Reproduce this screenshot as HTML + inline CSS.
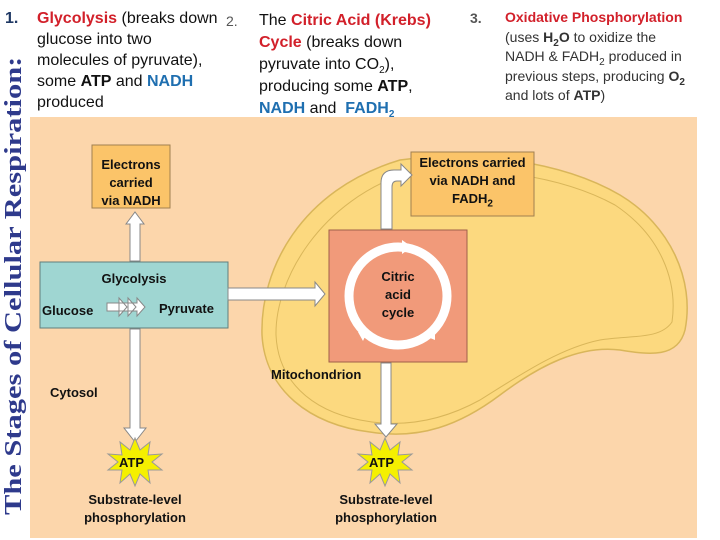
<!DOCTYPE html>
<html><head><meta charset="utf-8"><style>
html,body{margin:0;padding:0;background:#fff;}
body{width:720px;height:540px;position:relative;overflow:hidden;font-family:"Liberation Sans",sans-serif;}
.t{position:absolute;font-size:16px;line-height:21px;color:#111;}
.d{font-weight:bold;font-size:13px;}
.red{color:#d2202a;font-weight:bold}
.blue{color:#1f6fb0;font-weight:bold}
sub{font-size:10px;line-height:0}
</style></head><body>
<div style="position:absolute;left:30px;top:117px;width:667px;height:421px;background:#fcd6ab;"></div>
<svg width="720" height="540" style="position:absolute;left:0;top:0">
<path d="M400,160 C470,150 560,160 620,195 C670,225 695,280 685,330 C678,358 650,355 620,350 C580,345 540,365 500,395 C460,425 420,440 370,432 C310,425 265,390 262,335 C260,270 300,190 400,160 Z" fill="#fcd97f" stroke="#d9b65a" stroke-width="1.5"/>
<path d="M410,172 C480,165 560,175 615,205 C660,235 678,280 672,322 C660,340 630,335 600,340 C560,348 520,375 480,400 C440,422 400,428 360,420 C310,410 278,380 276,335 C275,280 320,200 410,172 Z" fill="none" stroke="#d9b65a" stroke-width="1"/>
<rect x="92" y="145" width="78" height="63" fill="#fbc469" stroke="#a08050"/>
<rect x="411" y="152" width="123" height="64" fill="#fbc469" stroke="#a08050"/>
<rect x="40" y="262" width="188" height="66" fill="#9fd6d2" stroke="#607f7c"/>
<rect x="329" y="230" width="138" height="132" fill="#f19a7a" stroke="#a0604a"/>
<g fill="#fff" stroke="#888" stroke-width="1">
<path d="M130,261 V224 H126 L135,212 L144,224 H140 V261 Z"/>
<path d="M130,329 V428 H124 L135,442 L146,428 H140 V329 Z"/>
<path d="M228,288 H315 V282 L325,294 L315,306 V300 H228 Z"/>
<path d="M381,229 V183 Q381,170 394,170 H401 V164 L412,175 L401,186 V181 H397 Q392,181 392,187 V229 Z"/>
<path d="M381,363 V424 H375 L386,437 L397,424 H391 V363 Z"/>
<path d="M107,303 H119 V298 L127,307 L119,316 V311 H107Z M119,303 H128 V298 L136,307 L128,316 V311 H119Z M128,303 H137 V298 L145,307 L137,316 V311 H128Z"/>
</g>
<circle cx="398" cy="296" r="49" fill="none" stroke="#fff" stroke-width="9"/>
<circle cx="398" cy="296" r="44" fill="#f19a7a"/>
<path d="M402,240 l10,7 -10,7z M368,330 l-10,2 5,9z M435,330 l0,10 -10,-4z" fill="#fff"/>
<g fill="#f5f000" stroke="#999" stroke-width="1">
<polygon points="135,438 140,450 150,442 148,455 162,454 152,462 162,470 148,470 150,483 140,474 135,486 130,474 120,483 122,470 108,470 118,462 108,454 122,455 120,442 130,450"/>
<polygon points="385,438 390,450 400,442 398,455 412,454 402,462 412,470 398,470 400,483 390,474 385,486 380,474 370,483 372,470 358,470 368,462 358,454 372,455 370,442 380,450"/>
</g>
</svg>
<div style="position:absolute;left:1px;top:515px;transform-origin:0 0;transform:rotate(-90deg) scaleX(1.27);font-family:'Liberation Serif',serif;font-weight:bold;font-size:24px;color:#2e3a8c;white-space:nowrap;line-height:26px;">The Stages of Cellular Respiration:</div>
<div class="t" style="left:5px;top:8px;font-weight:bold;color:#1f3864">1.</div>
<div class="t" style="left:37px;top:8px">
<span class="red">Glycolysis</span> (breaks down<br>glucose into two<br>molecules of pyruvate),<br>some <b>ATP</b> and <span class="blue">NADH</span><br>produced</div>
<div class="t" style="left:226px;top:11px;font-size:14px;color:#555">2.</div>
<div class="t" style="left:259px;top:10px;line-height:22px">The <span class="red">Citric Acid (Krebs)</span><br><span class="red">Cycle</span> (breaks down<br>pyruvate into CO<sub>2</sub>),<br>producing some <b>ATP</b>,<br><span class="blue">NADH</span> and &nbsp;<span class="blue">FADH<sub>2</sub></span></div>
<div class="t" style="left:470px;top:8px;font-weight:bold;color:#555;font-size:14px">3.</div>
<div class="t" style="left:505px;top:8px;font-size:14px;line-height:19.5px;color:#333"><span class="red">Oxidative Phosphorylation</span><br>(uses <b>H<sub>2</sub>O</b> to oxidize the<br>NADH &amp; FADH<sub>2</sub> produced in<br>previous steps, producing <b>O<sub>2</sub></b><br>and lots of <b>ATP</b>)</div>
<div class="t d" style="left:92px;top:156px;width:78px;text-align:center;line-height:18px">Electrons<br>carried<br>via NADH</div>
<div class="t d" style="left:408px;top:154px;width:129px;text-align:center;line-height:18px">Electrons carried<br>via NADH and<br>FADH<sub>2</sub></div>
<div class="t d" style="left:40px;top:268px;width:188px;text-align:center">Glycolysis</div>
<div class="t d" style="left:42px;top:300px">Glucose</div>
<div class="t d" style="left:159px;top:298px">Pyruvate</div>
<div class="t d" style="left:358px;top:268px;width:80px;text-align:center;line-height:18px">Citric<br>acid<br>cycle</div>
<div class="t d" style="left:271px;top:364px">Mitochondrion</div>
<div class="t d" style="left:50px;top:382px">Cytosol</div>
<div class="t d" style="left:119px;top:452px">ATP</div>
<div class="t d" style="left:369px;top:452px">ATP</div>
<div class="t d" style="left:65px;top:491px;width:140px;text-align:center;line-height:18px">Substrate-level<br>phosphorylation</div>
<div class="t d" style="left:316px;top:491px;width:140px;text-align:center;line-height:18px">Substrate-level<br>phosphorylation</div>
</body></html>
